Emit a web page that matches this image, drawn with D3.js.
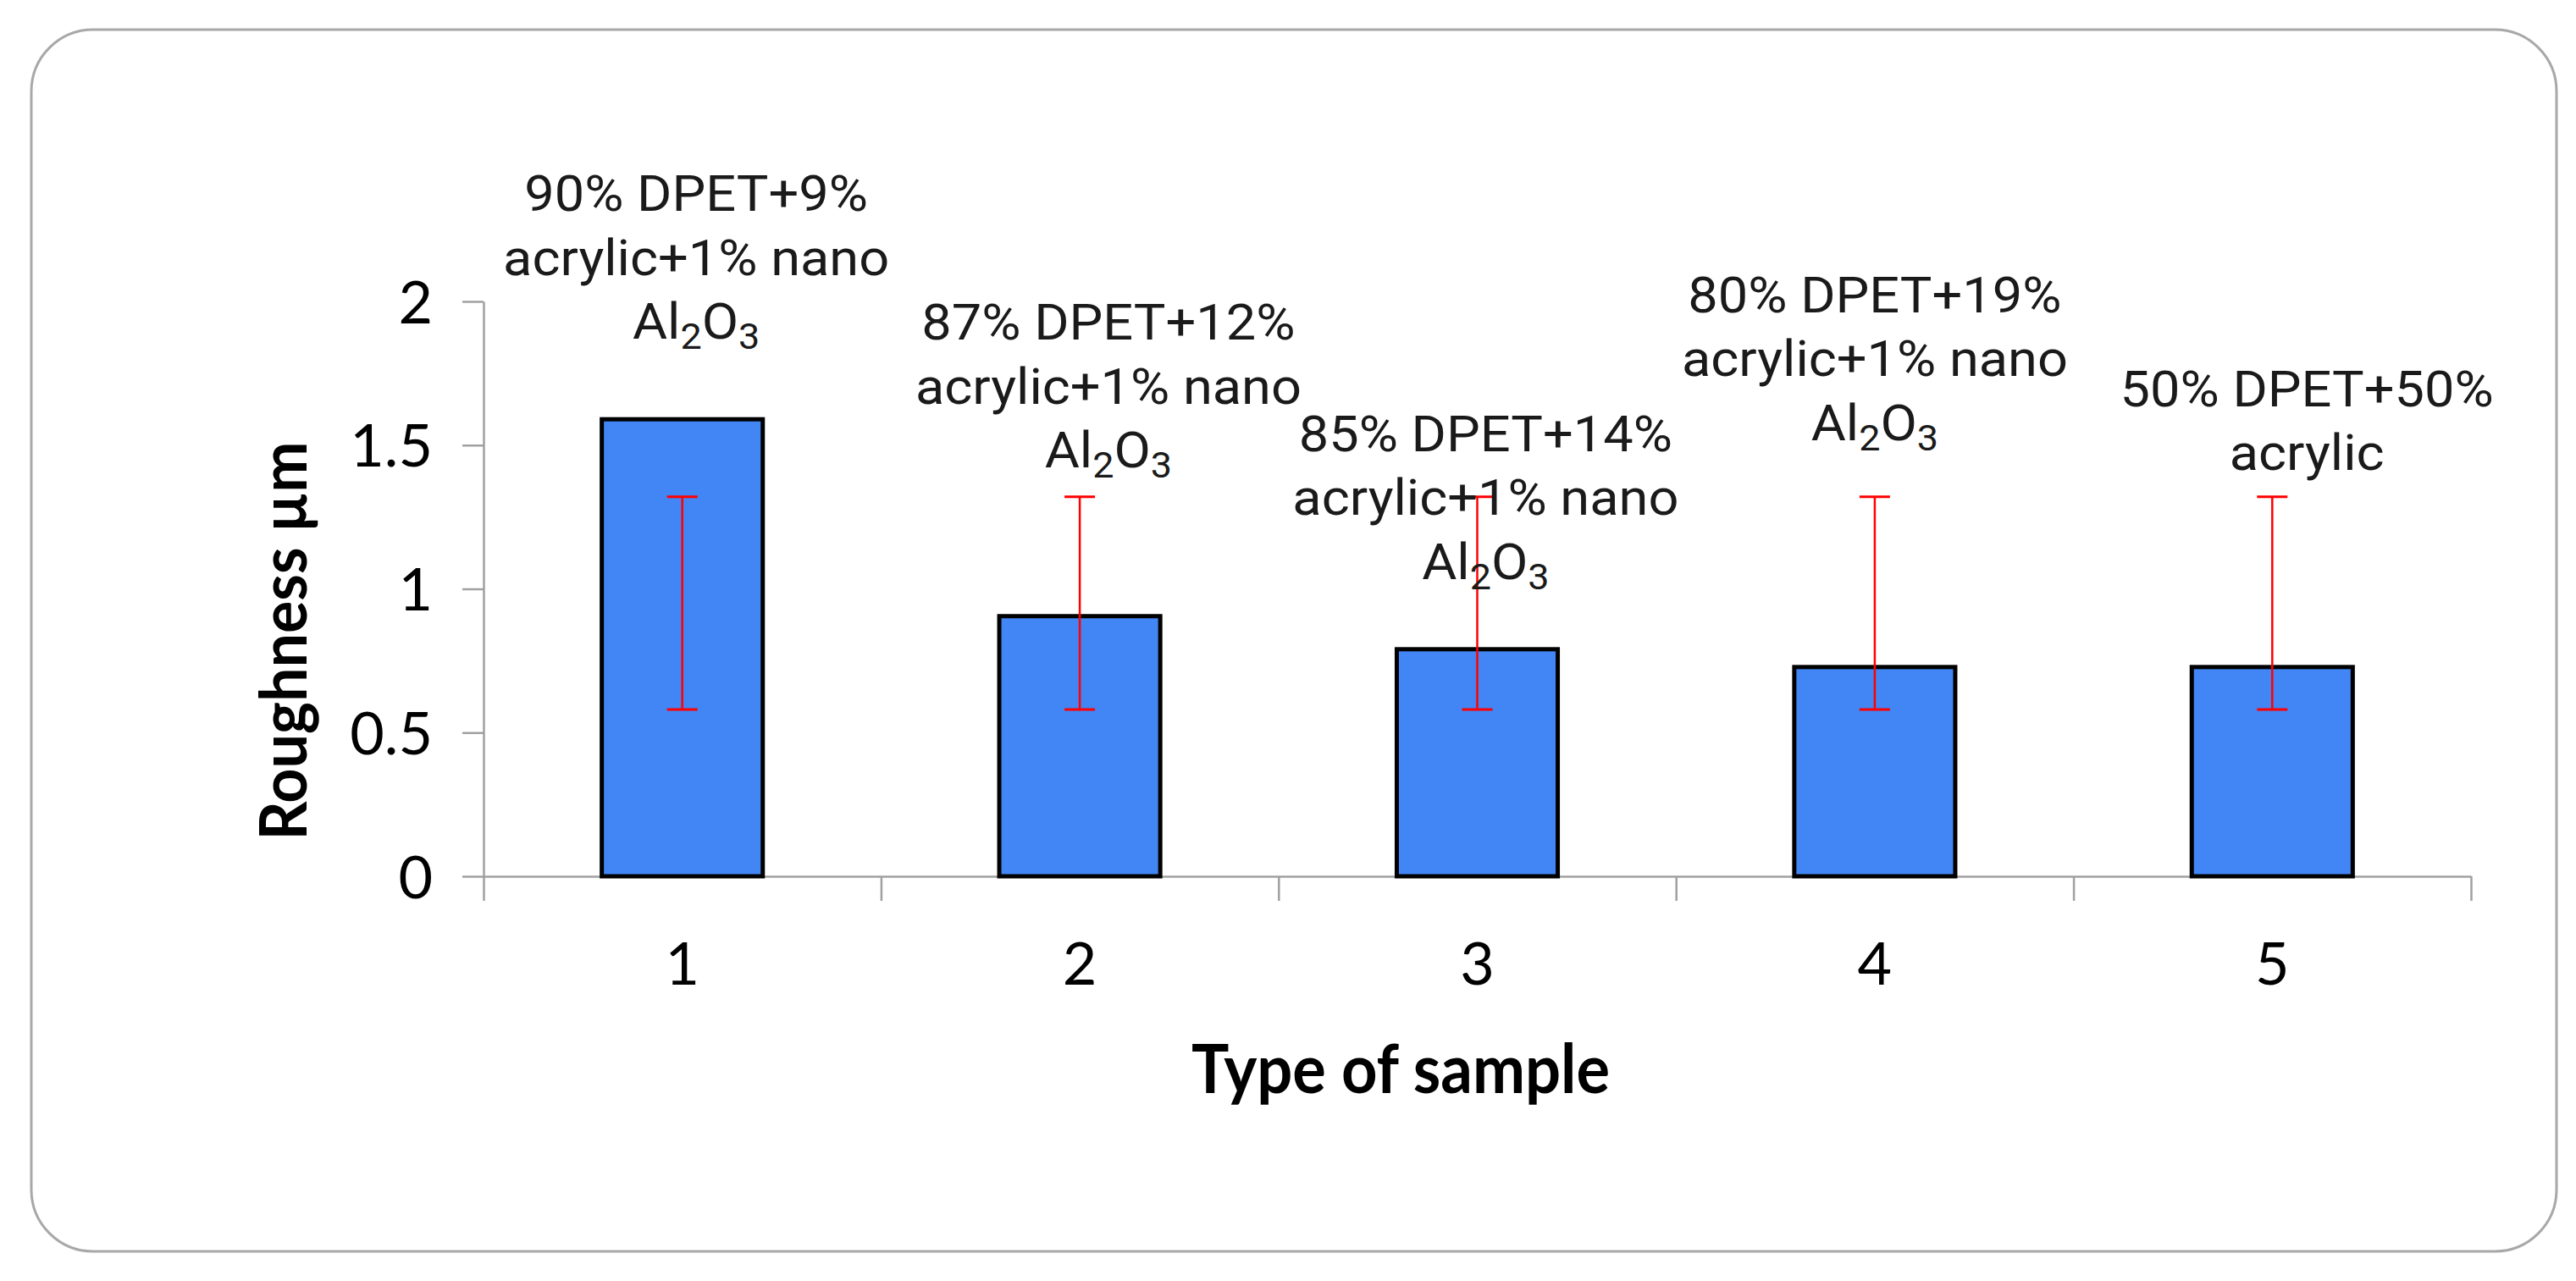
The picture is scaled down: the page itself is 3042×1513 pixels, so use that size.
<!DOCTYPE html>
<html>
<head>
<meta charset="utf-8">
<script src="https://cdn.jsdelivr.net/npm/d3@7"></script>
<style>
  body { margin: 0; background: #fff; }
  svg { display: block; }
</style>
</head>
<body>
<svg id="chart" width="3042" height="1513"></svg>
<script>
//Chart data
const categories = ["1", "2", "3", "4", "5"];
const roughness = [1.59, 0.905, 0.79, 0.728, 0.728];
const errorLow = [0.58, 0.58, 0.58, 0.58, 0.58];
const errorHigh = [1.32, 1.32, 1.32, 1.32, 1.32];
const yTicks = [0, 0.5, 1, 1.5, 2];

//Sample labels, "_n" marks a subscript digit
const sampleLabels = [
    ["90% DPET+9%", "acrylic+1% nano", "Al_2O_3"],
    ["87% DPET+12%", "acrylic+1% nano", "Al_2O_3"],
    ["85% DPET+14%", "acrylic+1% nano", "Al_2O_3"],
    ["80% DPET+19%", "acrylic+1% nano", "Al_2O_3"],
    ["50% DPET+50%", "acrylic"]
];
//Where each label sits: shift as part of a band, first line in y units
const labelShift = [0.035, 0.072, 0.021, 0, 0.087];
const labelTop = [2.315, 1.867, 1.479, 1.962, 1.635];

const svg = d3.select("#chart");

//Rounded card behind the chart
svg.append("rect")
    .attr("x", 37).attr("y", 35)
    .attr("width", 2982).attr("height", 1443)
    .attr("rx", 73).attr("ry", 73)
    .attr("fill", "#fff")
    .attr("stroke", "#a8a8a8")
    .attr("stroke-width", 3);

const plotLeft = 571, plotRight = 2918, plotTop = 356, plotBottom = 1035;

let x = d3.scaleBand()
    .domain(categories)
    .range([plotLeft, plotRight])
    .paddingInner(0.595)
    .paddingOuter(0.2975);

let xEdges = d3.scaleLinear().domain([0, categories.length]).range([plotLeft, plotRight]);

let y = d3.scaleLinear().domain([0, 2]).range([plotBottom, plotTop]);

const axisColor = "#a0a0a0";

//Y axis
let yAxis = svg.append("g")
    .attr("transform", `translate(${plotLeft},0)`)
    .call(d3.axisLeft(y).tickValues(yTicks).tickFormat(d3.format("")).tickSizeInner(25).tickSizeOuter(0).tickPadding(35));

yAxis.selectAll("path, line").attr("stroke", axisColor).attr("stroke-width", 2.5);
yAxis.selectAll("text")
    .attr("font-family", "Lato")
    .attr("font-size", 70)
    .attr("fill", "#000")
    .attr("dy", "0.36em");

//X axis ticks between categories
let xAxis = svg.append("g")
    .attr("transform", `translate(0,${plotBottom})`)
    .call(d3.axisBottom(xEdges).tickValues(d3.range(categories.length + 1)).tickSizeInner(29).tickSizeOuter(0));

xAxis.selectAll("text").remove();
xAxis.selectAll("path, line").attr("stroke", axisColor).attr("stroke-width", 2.5);

//X labels at the middle of each category
let xLabels = svg.append("g")
    .attr("transform", `translate(0,${plotBottom})`)
    .call(d3.axisBottom(x).tickSize(0).tickPadding(78));

xLabels.select(".domain").remove();
xLabels.selectAll("text")
    .attr("font-family", "Lato")
    .attr("font-size", 70)
    .attr("fill", "#000");

//Bars
svg.append("g").selectAll("rect")
    .data(roughness)
    .enter()
    .append("rect")
    .attr("x", (d, i) => x(categories[i]))
    .attr("y", d => y(d))
    .attr("width", x.bandwidth())
    .attr("height", d => y(0) - y(d))
    .attr("fill", "#4285f4")
    .attr("stroke", "#000")
    .attr("stroke-width", 5);

//Error bars
let errors = svg.append("g")
    .attr("stroke", "#ff0000")
    .selectAll("g")
    .data(categories)
    .enter()
    .append("g");

const cap = 18;

errors.append("line")
    .attr("x1", d => x(d) + x.bandwidth() / 2)
    .attr("x2", d => x(d) + x.bandwidth() / 2)
    .attr("y1", (d, i) => y(errorHigh[i]))
    .attr("y2", (d, i) => y(errorLow[i]))
    .attr("stroke-width", 2.5);

errors.selectAll(".cap")
    .data((d, i) => [[d, errorHigh[i]], [d, errorLow[i]]])
    .enter()
    .append("line")
    .attr("class", "cap")
    .attr("x1", d => x(d[0]) + x.bandwidth() / 2 - cap)
    .attr("x2", d => x(d[0]) + x.bandwidth() / 2 + cap)
    .attr("y1", d => y(d[1]))
    .attr("y2", d => y(d[1]))
    .attr("stroke-width", 3);

//Sample labels above the bars
const lineGap = 75.5;
const subDrop = 12;

sampleLabels.forEach((lines, i) => {
    let cx = x(categories[i]) + x.bandwidth() / 2 + labelShift[i] * x.step();
    let label = svg.append("text")
        .attr("transform", `translate(${cx},${y(labelTop[i])}) scale(1.07,1)`)
        .attr("text-anchor", "middle")
        .attr("font-family", "Roboto")
        .attr("font-size", 59)
        .attr("fill", "#1a1a1a");

    lines.forEach((line, j) => {
        let row = label.append("tspan")
            .attr("x", 0)
            .attr("y", j * lineGap);
        //Split out subscript digits, lowering them and lifting the next part back
        let lowered = false;
        line.split(/(_\d)/).filter(s => s !== "").forEach(part => {
            let isSub = part[0] === "_";
            let piece = row.append("tspan").text(isSub ? part.slice(1) : part);
            if (isSub) {
                piece.attr("font-size", 42).attr("dy", subDrop);
                lowered = true;
            } else if (lowered) {
                piece.attr("dy", -subDrop);
                lowered = false;
            }
        });
    });
});

//Axis titles
svg.append("text")
    .attr("x", 1654)
    .attr("y", 1291)
    .attr("text-anchor", "middle")
    .attr("font-family", "Lato")
    .attr("font-weight", "bold")
    .attr("font-size", 81)
    .attr("textLength", 494)
    .attr("lengthAdjust", "spacingAndGlyphs")
    .text("Type of sample");

svg.append("text")
    .attr("transform", "translate(362,757) rotate(-90)")
    .attr("text-anchor", "middle")
    .attr("font-family", "Lato")
    .attr("font-weight", "bold")
    .attr("font-size", 76)
    .attr("textLength", 471)
    .attr("lengthAdjust", "spacingAndGlyphs")
    .text("Roughness µm");
</script>
</body>
</html>
